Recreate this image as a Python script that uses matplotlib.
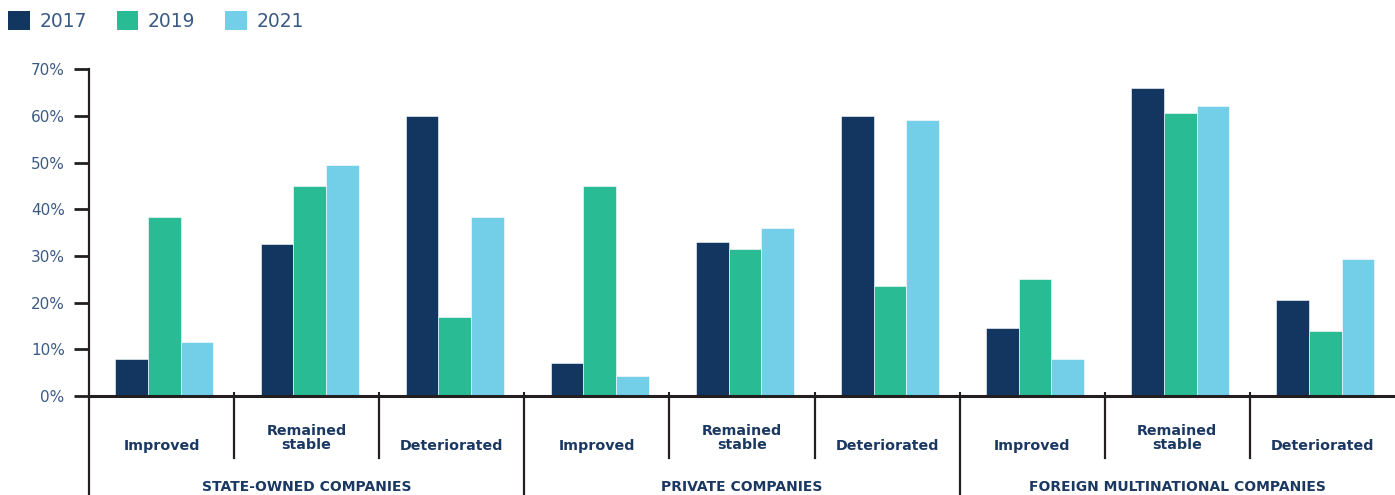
import numpy as np
import matplotlib
matplotlib.use('Agg')
import matplotlib.pyplot as plt
from matplotlib.patches import Patch
from matplotlib.lines import Line2D
import matplotlib.transforms as mtransforms

# Dati (percentuali)
years = ['2017', '2019', '2021']
groups = ['STATE-OWNED COMPANIES', 'PRIVATE COMPANIES', 'FOREIGN MULTINATIONAL COMPANIES']
outcomes = ['Improved', 'Remained\nstable', 'Deteriorated']

vals_2017 = [7.9, 32.5, 60.0, 7.1, 33.1, 59.9, 14.6, 65.9, 20.5]
vals_2019 = [38.4, 45.0, 16.9, 45.1, 31.6, 23.5, 25.0, 60.7, 13.9]
vals_2021 = [11.6, 49.5, 38.4, 4.2, 36.1, 59.1, 7.9, 62.1, 29.4]

y_ticks = [0, 10, 20, 30, 40, 50, 60, 70]

colors = ['#12365f', '#29bb94', '#72cfe7']
label_col = '#3b5b86'
cat_col = '#1b3862'
line_col = '#231f20'

W, H = 1395, 495
fig = plt.figure(figsize=(W / 100, H / 100), dpi=100)

# Assi posizionati in pixel
left, right, top, bottom = 89, 1395, 69.3, 396
ax = fig.add_axes([left / W, 1 - bottom / H, (right - left) / W, (bottom - top) / H])

n = len(vals_2017)
x = np.arange(n) + 0.5
bw = 0.225
for k, (vals, c) in enumerate(zip([vals_2017, vals_2019, vals_2021], colors)):
    ax.bar(x + 0.02 + (k - 1) * bw, vals, width=bw, color=c, edgecolor='white', linewidth=0.4)

ax.set_xlim(0, n)
ax.set_ylim(0, 70)
ax.set_yticks(y_ticks)
ax.set_yticklabels([f'{v}%' for v in y_ticks], color=label_col, fontsize=11)
ax.tick_params(axis='y', direction='out', length=10.5, width=2, color=line_col, pad=7)
ax.set_xticks(np.arange(1, n))
ax.set_xticklabels([])
ax.tick_params(axis='x', direction='in', length=3, width=1.5, color=line_col)

for s in ['top', 'right']:
    ax.spines[s].set_visible(False)
ax.spines['left'].set_color(line_col)
ax.spines['left'].set_linewidth(1.6)
ax.spines['bottom'].set_color(line_col)
ax.spines['bottom'].set_linewidth(2.2)

# Separatori sotto l'asse x (coordinate: x in dati, y in frazione di figura)
trans = mtransforms.blended_transform_factory(ax.transData, fig.transFigure)
y0 = 1 - bottom / H
for b in range(0, n):
    if b % 3 == 0:
        y1 = -0.02
    else:
        y1 = 1 - 458 / H
    fig.add_artist(Line2D([b, b], [y0, y1], transform=trans, color=line_col, lw=1.6))

# Etichette categorie
for i in range(n):
    lab = outcomes[i % 3]
    yc = 438 if '\n' in lab else 446
    fig.text(x[i], 1 - yc / H, lab, transform=trans, ha='center', va='center',
             fontsize=10.3, fontweight='bold', color=cat_col, linespacing=1.0)

# Etichette gruppi
for g, name in enumerate(groups):
    fig.text(3 * g + 1.5, 1 - 487 / H, name, transform=trans, ha='center', va='center',
             fontsize=10, fontweight='bold', color=cat_col)

# Legenda
handles = [Patch(facecolor=c, edgecolor='none') for c in colors]
fig.legend(handles, years, loc='upper left', bbox_to_anchor=(-0.002, 1.0), ncol=3,
           frameon=False, fontsize=13.5, labelcolor=label_col, handlelength=1.15,
           handleheight=1.15, handletextpad=0.5, columnspacing=1.6, borderaxespad=0.2)

plt.savefig('out.png', dpi=100)
plt.close()
